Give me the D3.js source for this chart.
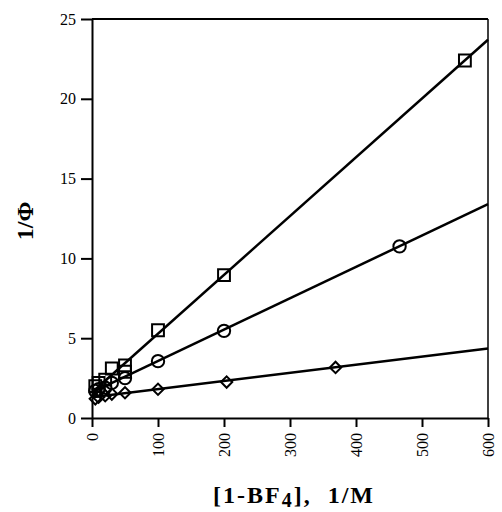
<!DOCTYPE html>
<html>
<head>
<meta charset="utf-8">
<script src="https://cdn.jsdelivr.net/npm/d3@7/dist/d3.min.js"></script>
<style>
  body { margin: 0; background: #fff; }
  text { font-family: "Liberation Serif", "Times New Roman", Times; }
</style>
</head>
<body>
<div id="chart-area"></div>
<script>
// data
var squareX = [5, 10, 20, 30, 50, 50, 100, 200, 565];
var squareY = [2.0, 2.2, 2.4, 3.1, 3.3, 2.9, 5.5, 8.95, 22.4];
var circleX = [5, 10, 20, 30, 50, 100, 200, 466];
var circleY = [1.7, 1.8, 1.9, 2.2, 2.5, 3.56, 5.46, 10.75];
var diamondX = [5, 10, 20, 30, 50, 100, 204, 369];
var diamondY = [1.2, 1.3, 1.4, 1.5, 1.58, 1.8, 2.25, 3.17];

// fitted lines, end points at x = 0 and x = 600
var fitX = [0, 600];
var squareFit = [1.6, 23.7];
var circleFit = [1.6, 13.4];
var diamondFit = [1.3, 4.36];

var xTicks = [0, 100, 200, 300, 400, 500, 600];
var yTicks = [0, 5, 10, 15, 20, 25];

var serif = '"Liberation Serif", "Times New Roman", Times';

var svg = d3.select('#chart-area').append('svg')
    .attr('width', 502)
    .attr('height', 512);

var x = d3.scaleLinear().domain([0, 600]).range([92, 488]);
var y = d3.scaleLinear().domain([0, 25]).range([418, 19]);

// frame on top and right
svg.append('line')
    .attr('x1', x(0)).attr('x2', x(600))
    .attr('y1', y(25)).attr('y2', y(25))
    .attr('stroke', '#000').attr('stroke-width', 2);
svg.append('line')
    .attr('x1', x(600)).attr('x2', x(600))
    .attr('y1', y(25)).attr('y2', y(0))
    .attr('stroke', '#000').attr('stroke-width', 1.5);

var xAxis = svg.append('g')
    .attr('transform', 'translate(0,' + y(0) + ')')
    .call(d3.axisBottom(x).tickValues(xTicks).tickSize(9).tickSizeOuter(0));
xAxis.selectAll('text')
    .attr('transform', 'rotate(-90)')
    .attr('x', -15).attr('y', 0)
    .attr('dy', '0.35em')
    .style('text-anchor', 'end');

var yAxis = svg.append('g')
    .attr('transform', 'translate(' + x(0) + ',0)')
    .call(d3.axisLeft(y).tickValues(yTicks).tickSize(11).tickSizeOuter(0));
yAxis.selectAll('text').attr('x', -16);

svg.selectAll('.domain').attr('stroke-width', 2);
svg.selectAll('.tick line').attr('stroke-width', 2);
svg.selectAll('.tick text')
    .style('font-family', serif)
    .style('font-size', '16px')
    .attr('fill', '#000');

// fit lines
var line = d3.line()
    .x((d, i) => x(fitX[i]))
    .y((d) => y(d));

[squareFit, circleFit, diamondFit].forEach((f) => {
    svg.append('path')
        .datum(f)
        .attr('d', line)
        .attr('fill', 'none')
        .attr('stroke', '#000')
        .attr('stroke-width', 2.5);
});

// markers
var sym = (type, size, xs, ys, rot) => {
    svg.append('g').selectAll('path')
        .data(xs)
        .enter()
        .append('path')
            .attr('d', d3.symbol().type(type).size(size))
            .attr('transform', (d, i) => 'translate(' + x(d) + ',' + y(ys[i]) + ')' + (rot ? ' rotate(45)' : ''))
            .attr('fill', 'none')
            .attr('stroke', '#000')
            .attr('stroke-width', 2);
};
sym(d3.symbolSquare, 140, squareX, squareY, false);
sym(d3.symbolCircle, 120, circleX, circleY, false);
sym(d3.symbolSquare, 64, diamondX, diamondY, true);

// axis titles
svg.append('text')
    .attr('transform', 'translate(33,221) rotate(-90)')
    .attr('text-anchor', 'middle')
    .style('font-family', serif)
    .style('font-size', '24px')
    .style('font-weight', 'bold')
    .text('1/Φ');

var xl = svg.append('text')
    .attr('x', 294).attr('y', 503)
    .attr('text-anchor', 'middle')
    .style('font-family', serif)
    .style('font-size', '24px')
    .style('letter-spacing', '2px')
    .style('font-weight', 'bold');
xl.append('tspan').text('[1-BF');
xl.append('tspan').attr('dy', 4).style('font-size', '20px').text('4');
xl.append('tspan').attr('dy', -4).text('],\u00a0 1/M');
</script>
</body>
</html>
